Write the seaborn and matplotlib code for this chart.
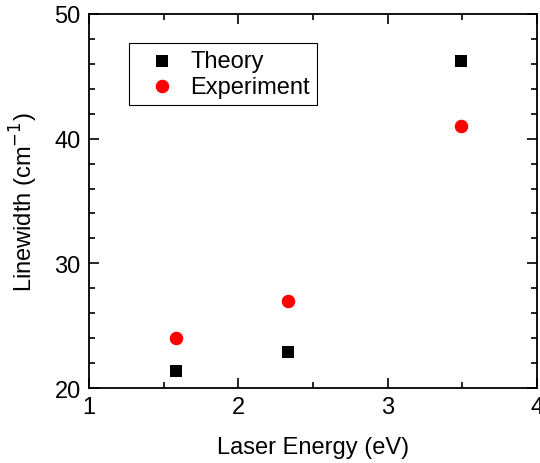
import pandas as pd
import matplotlib
matplotlib.use('Agg')
import matplotlib.pyplot as plt
import seaborn as sns
from matplotlib.ticker import MultipleLocator

# Values
energy = [1.58, 2.33, 3.49]
theory = [21.4, 22.9, 46.2]
experiment = [24.0, 27.0, 41.0]

df = pd.DataFrame({'energy': energy, 'theory': theory, 'experiment': experiment})

sns.set_style('ticks')
plt.rcParams['font.family'] = ['Liberation Sans', 'DejaVu Sans']
plt.rcParams.update({
    'font.size': 17,
    'axes.labelsize': 17,
    'xtick.labelsize': 17,
    'ytick.labelsize': 17,
    'legend.fontsize': 17,
    'text.color': 'black',
    'axes.labelcolor': 'black',
    'xtick.color': 'black',
    'ytick.color': 'black',
    'axes.edgecolor': 'black',
})

fig = plt.figure(figsize=(5.4, 4.64), dpi=100)
ax = fig.add_axes([0.1648, 0.1616, 0.8296, 0.8061])

sns.scatterplot(data=df, x='energy', y='theory', color='black', marker='s',
                s=72, linewidth=0, label='Theory', ax=ax)
sns.scatterplot(data=df, x='energy', y='experiment', color='red', marker='o',
                s=95, linewidth=0, label='Experiment', ax=ax)

ax.set_xlim(1, 4)
ax.set_ylim(20, 50)
ax.xaxis.set_major_locator(MultipleLocator(1))
ax.xaxis.set_minor_locator(MultipleLocator(0.5))
ax.yaxis.set_major_locator(MultipleLocator(10))
ax.yaxis.set_minor_locator(MultipleLocator(2))
ax.tick_params(which='both', direction='in', top=True, right=True, width=1.2)
ax.tick_params(which='major', length=7, pad=6)
ax.tick_params(which='minor', length=4)
for sp in ax.spines.values():
    sp.set_linewidth(1.3)

ax.set_xlabel('Laser Energy (eV)', labelpad=13)
ax.set_ylabel('Linewidth (cm$^{-1}$)')
ax.yaxis.set_label_coords(-0.11, 0.5)

handles, labels = ax.get_legend_handles_labels()
leg = ax.legend(handles, labels, loc='upper left', bbox_to_anchor=(0.089, 0.9225),
                frameon=True, fancybox=False, edgecolor='black', framealpha=1,
                borderpad=0.3, handlelength=2.2, handletextpad=0.1,
                labelspacing=0.15, borderaxespad=0)
leg.get_frame().set_linewidth(0.8)
leg.legend_handles[0].set_sizes([72])
leg.legend_handles[1].set_sizes([95])

fig.savefig('out.png', dpi=100)
